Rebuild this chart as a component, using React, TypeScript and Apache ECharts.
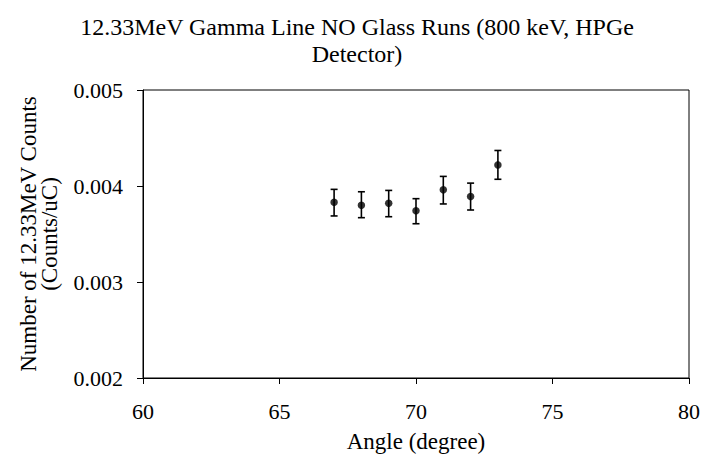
import React, { useEffect, useRef } from "react";
import * as echarts from "echarts";

const angles = [67, 68, 69, 70, 71, 72, 73];
const counts = [0.00383, 0.0038, 0.00382, 0.003743, 0.00396, 0.00389, 0.00422];
const lowerBounds = [0.003688, 0.00367, 0.00368, 0.003607, 0.003813, 0.00375, 0.00407];
const upperBounds = [0.003965, 0.00394, 0.003954, 0.003868, 0.0041, 0.00403, 0.00437];

const FONT = "'Liberation Serif', 'Times New Roman', serif";

export default function App() {
  const ref = useRef<HTMLDivElement>(null);
  useEffect(() => {
    if (!ref.current) return;
    const chart = echarts.init(ref.current, null, { renderer: "svg" });
    const errData = angles.map((a, i) => [a, lowerBounds[i], upperBounds[i]]);
    chart.setOption({
      animation: false,
      backgroundColor: "#ffffff",
      textStyle: { fontFamily: FONT, color: "#000" },
      title: {
        text: "12.33MeV Gamma Line NO Glass Runs (800 keV, HPGe\nDetector)",
        left: 352,
        top: 8,
        textAlign: "center",
        textStyle: { fontFamily: FONT, fontSize: 24, fontWeight: "normal", color: "#000", lineHeight: 27 },
      },
      grid: {
        left: 143,
        right: 14,
        top: 90,
        bottom: 88,
        show: true,
        borderColor: "#000",
        borderWidth: 1,
        backgroundColor: "transparent",
      },
      xAxis: {
        type: "value",
        min: 60,
        max: 80,
        interval: 5,
        name: "Angle (degree)",
        nameLocation: "middle",
        nameGap: 52,
        nameTextStyle: { fontFamily: FONT, fontSize: 23, color: "#000" },
        axisLine: { lineStyle: { color: "#000", width: 1 } },
        axisTick: { inside: false, length: 6, lineStyle: { color: "#000" } },
        axisLabel: { fontFamily: FONT, fontSize: 22, color: "#000", margin: 22 },
        splitLine: { show: false },
      },
      yAxis: {
        type: "value",
        min: 0.002,
        max: 0.005,
        interval: 0.001,
        name: "Number of 12.33MeV Counts\n(Counts/uC)",
        nameLocation: "middle",
        nameGap: 83,
        nameRotate: 90,
        nameTextStyle: { fontFamily: FONT, fontSize: 23, color: "#000", lineHeight: 21 },
        axisLine: { show: true, lineStyle: { color: "#000", width: 1 } },
        axisTick: { show: true, inside: false, length: 6, lineStyle: { color: "#000" } },
        axisLabel: {
          fontFamily: FONT,
          fontSize: 22,
          color: "#000",
          margin: 20,
          formatter: (v: number) => v.toFixed(3),
        },
        splitLine: { show: false },
      },
      series: [
        {
          type: "custom",
          data: errData,
          renderItem: (params: any, api: any) => {
            const x = api.value(0);
            const lo = api.coord([x, api.value(1)]);
            const hi = api.coord([x, api.value(2)]);
            const cap = 3.5;
            const style = { stroke: "#000", lineWidth: 1.6 };
            return {
              type: "group",
              children: [
                { type: "line", shape: { x1: lo[0], y1: lo[1], x2: hi[0], y2: hi[1] }, style },
                { type: "line", shape: { x1: hi[0] - cap, y1: hi[1], x2: hi[0] + cap, y2: hi[1] }, style },
                { type: "line", shape: { x1: lo[0] - cap, y1: lo[1], x2: lo[0] + cap, y2: lo[1] }, style },
              ],
            };
          },
          z: 2,
        },
        {
          type: "scatter",
          data: angles.map((a, i) => [a, counts[i]]),
          symbol: "circle",
          symbolSize: 7.5,
          itemStyle: { color: "#000" },
          z: 3,
        },
      ],
    });
    return () => chart.dispose();
  }, []);
  return <div ref={ref} style={{ width: 703, height: 466, position: "absolute", left: 0, top: 0 }} />;
}
